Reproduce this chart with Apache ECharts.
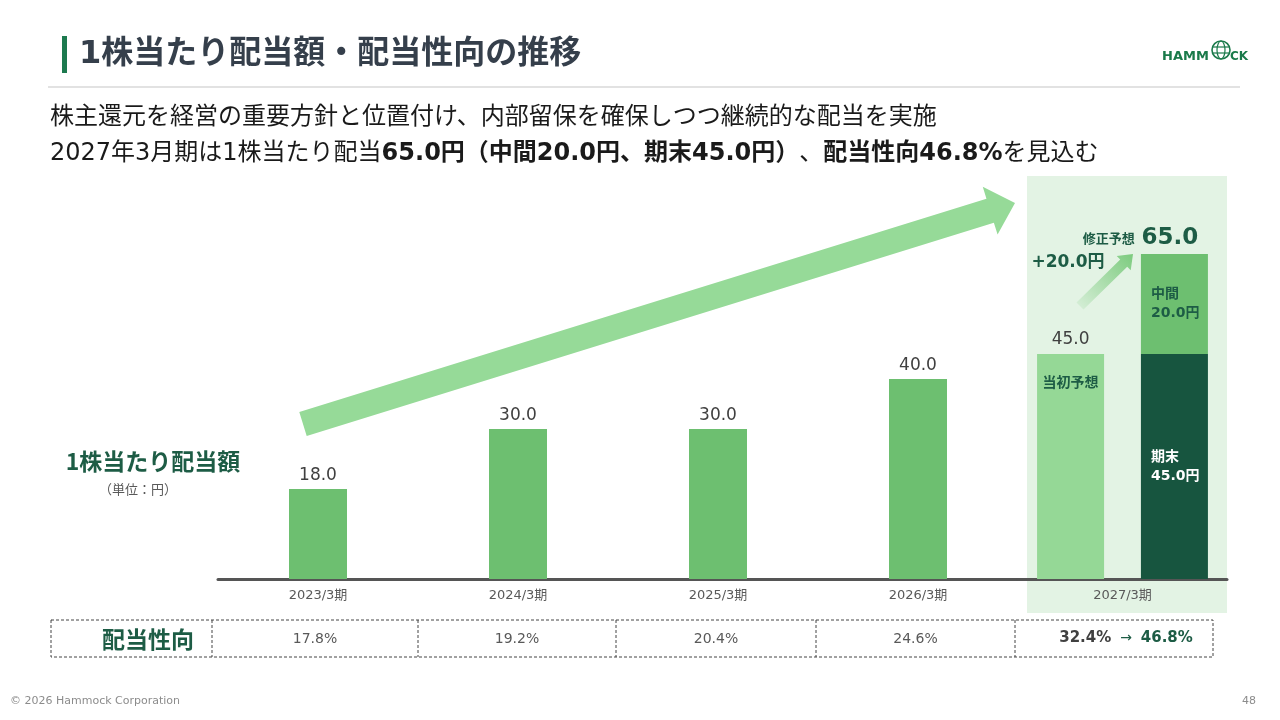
<!DOCTYPE html>
<html>
<head>
<meta charset="utf-8">
<script src="https://cdn.jsdelivr.net/npm/echarts@6/dist/echarts.min.js"></script>
</head>
<body style="margin:0;background:#fff">
<div id="main" style="width:1280px;height:720px"></div>
<script>
// data
var years = ['2023/3期', '2024/3期', '2025/3期', '2026/3期'];
var dps = [18.0, 30.0, 30.0, 40.0];
var forecastYear = ['2027/3期'];
var dpsInitial = [45.0];
var dpsYearEnd = [45.0];
var dpsInterim = [20.0];
var payout = [17.8, 19.2, 20.4, 24.6];
var payoutForecast = [32.4, 46.8];

var FONT = "'DejaVu Sans', 'Noto Sans CJK JP', sans-serif";
var JP = "'Noto Sans CJK JP', sans-serif";
var C = {
    bar: '#6DBF70', light: '#95D896', dark: '#17553F', dtext: '#1D5C45',
    bg: '#E3F3E4', arrow: '#96DA98', label: '#404040', axis: '#595959'
};

var total = dpsYearEnd[0] + dpsInterim[0];
var raise = total - dpsInitial[0];

// arrow outline from tail to tip
function arrowPts(tx, ty, hx, hy, hs, hh, hl) {
    var dx = hx - tx, dy = hy - ty, L = Math.sqrt(dx * dx + dy * dy);
    var ux = dx / L, uy = dy / L, nx = -uy, ny = ux;
    function p(a, b) { return [tx + ux * a + nx * b, ty + uy * a + ny * b]; }
    return [p(0, -hs), p(L - hl, -hs), p(L - hl, -hh), p(L, 0), p(L - hl, hh), p(L - hl, hs), p(0, hs)];
}

var graphics = [
    // header
    {type: 'rect', shape: {x: 62, y: 36, width: 5, height: 37}, style: {fill: '#1D7A4F'}},
    {type: 'text', x: 79, y: 55, style: {text: '1株当たり配当額・配当性向の推移', font: 'bold 32px ' + FONT, fill: '#353F4B', verticalAlign: 'middle'}},
    {type: 'line', shape: {x1: 48, y1: 87, x2: 1240, y2: 87}, style: {stroke: '#E2E2E2', lineWidth: 2}},
    // logo
    {type: 'text', x: 1162, y: 57, style: {text: 'HAMM', font: 'bold 13px ' + FONT, fill: '#1A7A4A', verticalAlign: 'middle'}},
    {type: 'circle', shape: {cx: 1221, cy: 50, r: 9}, style: {fill: 'none', stroke: '#1A7A4A', lineWidth: 1.6}},
    {type: 'ellipse', shape: {cx: 1221, cy: 50, rx: 4, ry: 9}, style: {fill: 'none', stroke: '#1A7A4A', lineWidth: 1.2}},
    {type: 'line', shape: {x1: 1212, y1: 47, x2: 1230, y2: 47}, style: {stroke: '#1A7A4A', lineWidth: 1.2}},
    {type: 'line', shape: {x1: 1212, y1: 53, x2: 1230, y2: 53}, style: {stroke: '#1A7A4A', lineWidth: 1.2}},
    {type: 'text', x: 1230, y: 57, style: {text: 'CK', font: 'bold 12px ' + FONT, fill: '#1A7A4A', verticalAlign: 'middle'}},
    // lead text
    {type: 'text', x: 50, y: 118, style: {text: '株主還元を経営の重要方針と位置付け、内部留保を確保しつつ継続的な配当を実施', font: '24px ' + FONT, fill: '#1a1a1a', verticalAlign: 'middle'}},
    {type: 'text', x: 50, y: 154, style: {
        text: '{n|2027年3月期は1株当たり配当}{b|' + total.toFixed(1) + '円（中間' + dpsInterim[0].toFixed(1) + '円、期末' + dpsYearEnd[0].toFixed(1) + '円）}{n|、}{b|配当性向' + payoutForecast[1].toFixed(1) + '%}{n|を見込む}',
        verticalAlign: 'middle',
        rich: {
            n: {fontSize: 24, fontFamily: FONT, fill: '#1a1a1a'},
            b: {fontSize: 24, fontFamily: FONT, fontWeight: 'bold', fill: '#1a1a1a'}
        }
    }},
    // forecast column background
    {type: 'rect', z: -5, shape: {x: 1027, y: 176, width: 200, height: 437}, style: {fill: C.bg}},
    // big trend arrow
    {type: 'polygon', z: -4, shape: {points: arrowPts(303, 424, 1015, 203, 12.5, 25, 26)}, style: {fill: C.arrow}},
    // small raise arrow
    {type: 'polygon', shape: {points: arrowPts(1080, 306, 1133, 254, 5, 10, 13)}, style: {
        fill: new echarts.graphic.LinearGradient(0, 1, 1, 0, [
            {offset: 0, color: 'rgba(124,203,126,0.1)'}, {offset: 1, color: 'rgba(124,203,126,1)'}])
    }},
    {type: 'text', x: 1068, y: 263, style: {text: '+' + raise.toFixed(1) + '円', font: 'bold 17px ' + FONT, fill: C.dtext, align: 'center', verticalAlign: 'middle'}},
    // left captions
    {type: 'text', x: 153, y: 461, style: {text: '1株当たり配当額', font: 'bold 23px ' + JP, fill: C.dtext, align: 'center', verticalAlign: 'middle'}},
    {type: 'text', x: 138, y: 489, style: {text: '（単位：円）', font: '13px ' + JP, fill: '#595959', align: 'center', verticalAlign: 'middle'}},
    // footer
    {type: 'text', x: 10, y: 701, style: {text: '© 2026 Hammock Corporation', font: '11px ' + FONT, fill: '#8C8C8C', verticalAlign: 'middle'}},
    {type: 'text', x: 1256, y: 701, style: {text: '48', font: '11px ' + FONT, fill: '#8C8C8C', align: 'right', verticalAlign: 'middle'}}
];

// payout ratio table
var cells = [51, 212, 418, 616, 816, 1015, 1213];
var dash = {fill: 'none', stroke: '#444', lineWidth: 1, lineDash: [3, 2]};
graphics.push({type: 'rect', shape: {x: 51, y: 620, width: 1162, height: 37}, style: dash});
for (var i = 1; i < cells.length - 1; i++) {
    graphics.push({type: 'line', shape: {x1: cells[i], y1: 620, x2: cells[i], y2: 657}, style: dash});
}
graphics.push({type: 'text', x: 148, y: 639, style: {text: '配当性向', font: 'bold 23px ' + JP, fill: C.dtext, align: 'center', verticalAlign: 'middle'}});
payout.forEach(function (v, i) {
    graphics.push({type: 'text', x: (cells[i + 1] + cells[i + 2]) / 2, y: 639, style: {text: v.toFixed(1) + '%', font: '14px ' + FONT, fill: '#595959', align: 'center', verticalAlign: 'middle'}});
});
graphics.push({type: 'text', x: 1126, y: 638, style: {
    text: '{g|' + payoutForecast[0].toFixed(1) + '%}{a|  →  }{d|' + payoutForecast[1].toFixed(1) + '%}',
    align: 'center', verticalAlign: 'middle',
    rich: {
        g: {fontSize: 15, fontWeight: 'bold', fontFamily: FONT, fill: '#404040'},
        a: {fontSize: 14, fontFamily: FONT, fill: C.dtext},
        d: {fontSize: 15, fontWeight: 'bold', fontFamily: FONT, fill: C.dtext}
    }
}});

var axisCommon = {
    type: 'category',
    axisLine: {lineStyle: {color: '#555', width: 3}},
    axisTick: {show: false},
    axisLabel: {color: '#595959', fontSize: 13, margin: 10, fontFamily: FONT}
};

var option = {
    animation: false,
    backgroundColor: '#fff',
    grid: [
        {left: 218, width: 800, top: 179, bottom: 141},
        {left: 1018, width: 209, top: 179, bottom: 141}
    ],
    xAxis: [
        Object.assign({gridIndex: 0, data: years}, axisCommon),
        Object.assign({gridIndex: 1, data: forecastYear}, axisCommon)
    ],
    yAxis: [
        {gridIndex: 0, type: 'value', min: 0, max: 80, show: false},
        {gridIndex: 1, type: 'value', min: 0, max: 80, show: false}
    ],
    graphic: graphics,
    series: [
        {
            type: 'bar', xAxisIndex: 0, yAxisIndex: 0, data: dps, barWidth: 58,
            itemStyle: {color: C.bar},
            label: {show: true, position: 'top', distance: 5, fontSize: 17, fontFamily: FONT, color: C.label,
                formatter: function (p) { return p.value.toFixed(1); }}
        },
        {
            type: 'bar', xAxisIndex: 1, yAxisIndex: 1, data: dpsInitial, barWidth: 67, barGap: '55%',
            itemStyle: {color: C.light},
            label: {show: true, position: 'insideTop', distance: 0, offset: [0, -25],
                formatter: function (p) { return '{v|' + p.value.toFixed(1) + '}\n{s| }\n{t|当初予想}'; },
                rich: {
                    v: {fontSize: 17, fontFamily: FONT, color: C.label, lineHeight: 22},
                    s: {fontSize: 10, lineHeight: 20},
                    t: {fontSize: 14, fontFamily: JP, fontWeight: 'bold', color: C.dtext, lineHeight: 22}
                }}
        },
        {
            type: 'bar', xAxisIndex: 1, yAxisIndex: 1, stack: 'f', data: dpsYearEnd, barWidth: 67, barGap: '55%',
            itemStyle: {color: C.dark},
            label: {show: true, position: 'insideLeft', distance: 10, fontSize: 14, fontWeight: 'bold',
                fontFamily: FONT, color: '#fff', lineHeight: 19,
                formatter: function (p) { return '期末\n' + p.value.toFixed(1) + '円'; }}
        },
        {
            type: 'bar', xAxisIndex: 1, yAxisIndex: 1, stack: 'f', data: dpsInterim, barWidth: 67, barGap: '55%',
            itemStyle: {color: C.bar},
            label: {show: true, position: 'insideLeft', distance: 10, fontSize: 14, fontWeight: 'bold',
                fontFamily: FONT, color: C.dtext, lineHeight: 19,
                formatter: function (p) { return '中間\n' + p.value.toFixed(1) + '円'; }}
        },
        {
            // zero-height carrier for the total label
            type: 'bar', xAxisIndex: 1, yAxisIndex: 1, stack: 'f', data: [0], barWidth: 67, barGap: '55%',
            itemStyle: {color: C.bar},
            label: {show: true, position: 'top', distance: 4, offset: [-34, 0],
                formatter: '{a|修正予想}  {b|' + total.toFixed(1) + '}',
                rich: {
                    a: {fontSize: 13, fontFamily: JP, fontWeight: 'bold', color: C.dtext},
                    b: {fontSize: 23, fontFamily: FONT, fontWeight: 'bold', color: C.dtext}
                }}
        }
    ]
};

var chart = echarts.init(document.getElementById('main'));
chart.setOption(option);
</script>
</body>
</html>
